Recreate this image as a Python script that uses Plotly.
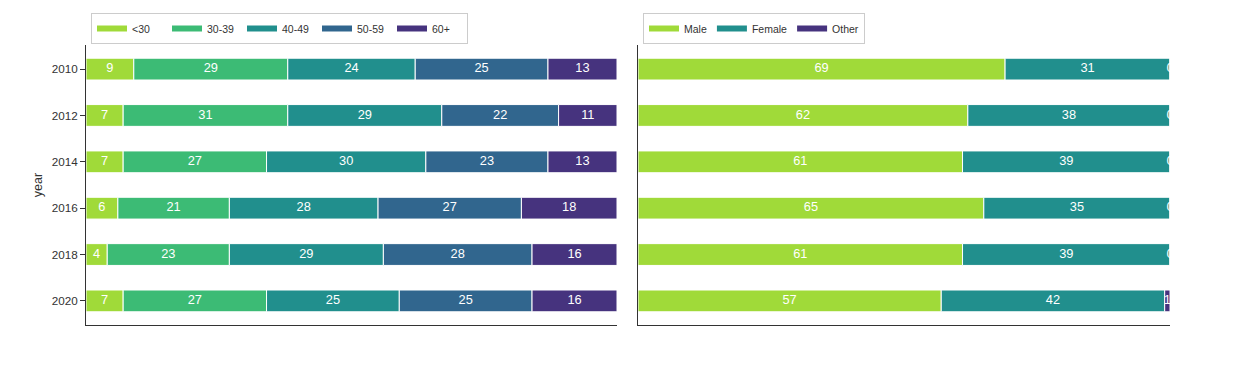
import plotly.graph_objects as go
import numpy as np

years = ["2010", "2012", "2014", "2016", "2018", "2020"]

age_groups = ["<30", "30-39", "40-49", "50-59", "60+"]
age_lt30 = [9, 7, 7, 6, 4, 7]
age_30_39 = [29, 31, 27, 21, 23, 27]
age_40_49 = [24, 29, 30, 28, 29, 25]
age_50_59 = [25, 22, 23, 27, 28, 25]
age_60p = [13, 11, 13, 18, 16, 16]

genders = ["Male", "Female", "Other"]
g_male = [69, 62, 61, 65, 61, 57]
g_female = [31, 38, 39, 35, 39, 42]
g_other = [0, 0, 0, 0, 0, 1]

age_colors = ["#a0da39", "#3cbb75", "#218f8d", "#31668e", "#46337e"]
gender_colors = ["#a0da39", "#218f8d", "#46337e"]

FONT = "Liberation Sans, Arial, Helvetica, sans-serif"

fig = go.Figure()


def add_panel(names, series, colors, xa, ya, legend):
    cum = np.zeros(len(years))
    for name, vals, col in zip(names, series, colors):
        vals = np.array(vals, dtype=float)
        fig.add_trace(go.Bar(
            y=years, x=vals, base=cum.copy(), orientation="h", name=name,
            marker=dict(color=col, line=dict(color="white", width=1)),
            width=0.47, showlegend=False, xaxis=xa, yaxis=ya,
        ))
        fig.add_trace(go.Scatter(
            x=cum + vals / 2, y=years, mode="text",
            text=[str(int(v)) for v in vals],
            textposition="middle center",
            textfont=dict(color="white", size=12.8, family=FONT),
            showlegend=False, cliponaxis=True, xaxis=xa, yaxis=ya,
            hoverinfo="skip",
        ))
        fig.add_trace(go.Scatter(
            x=[None], y=[None], mode="lines", name=name,
            line=dict(color=col, width=6), legend=legend,
            xaxis=xa, yaxis=ya,
        ))
        cum = cum + vals


add_panel(age_groups, [age_lt30, age_30_39, age_40_49, age_50_59, age_60p],
          age_colors, "x", "y", "legend")
add_panel(genders, [g_male, g_female, g_other], gender_colors, "x2", "y2", "legend2")

# page is shown with an 8px body offset, so margins are shifted by 8px
W, H = 1240, 373
l, r, t, b = 78, 78, 37, 56
pw = W - l - r
ph = H - t - b
d1 = (617 - 86) / pw
d2 = (638 - 86) / pw

axis_common = dict(showgrid=False, zeroline=False, showline=True,
                   linecolor="#333333", linewidth=1, automargin=False)

legend_common = dict(orientation="h", xanchor="left", y=1 + 1 / ph,
                     yanchor="bottom", bordercolor="#cccccc", borderwidth=1,
                     font=dict(size=10.5, color="#333333"), itemwidth=30)

fig.update_layout(
    width=W, height=H,
    margin=dict(l=l, r=r, t=t, b=b, autoexpand=False),
    plot_bgcolor="white", paper_bgcolor="white",
    font=dict(family=FONT, color="#333333", size=11),
    barmode="overlay",
    xaxis=dict(domain=[0, d1], range=[0, 100], showticklabels=False, ticks="",
               **axis_common),
    xaxis2=dict(domain=[d2, 1], range=[0, 100], showticklabels=False, ticks="",
                anchor="y2", **axis_common),
    yaxis=dict(type="category", categoryorder="array", categoryarray=years,
               range=[5.52, -0.52], ticks="outside", ticklen=5,
               tickcolor="#333333", tickfont=dict(size=11.7, color="#333333"),
               title=dict(text="year", font=dict(size=12.5, color="#333333"),
                          standoff=6),
               **axis_common),
    yaxis2=dict(type="category", categoryorder="array", categoryarray=years,
                range=[5.52, -0.52], showticklabels=False, ticks="",
                anchor="x2", **axis_common),
    legend=dict(x=5 / pw, entrywidth=30, entrywidthmode="pixels", **legend_common),
    legend2=dict(x=(643 - 86) / pw, **legend_common),
)

fig.write_html("out.html")
